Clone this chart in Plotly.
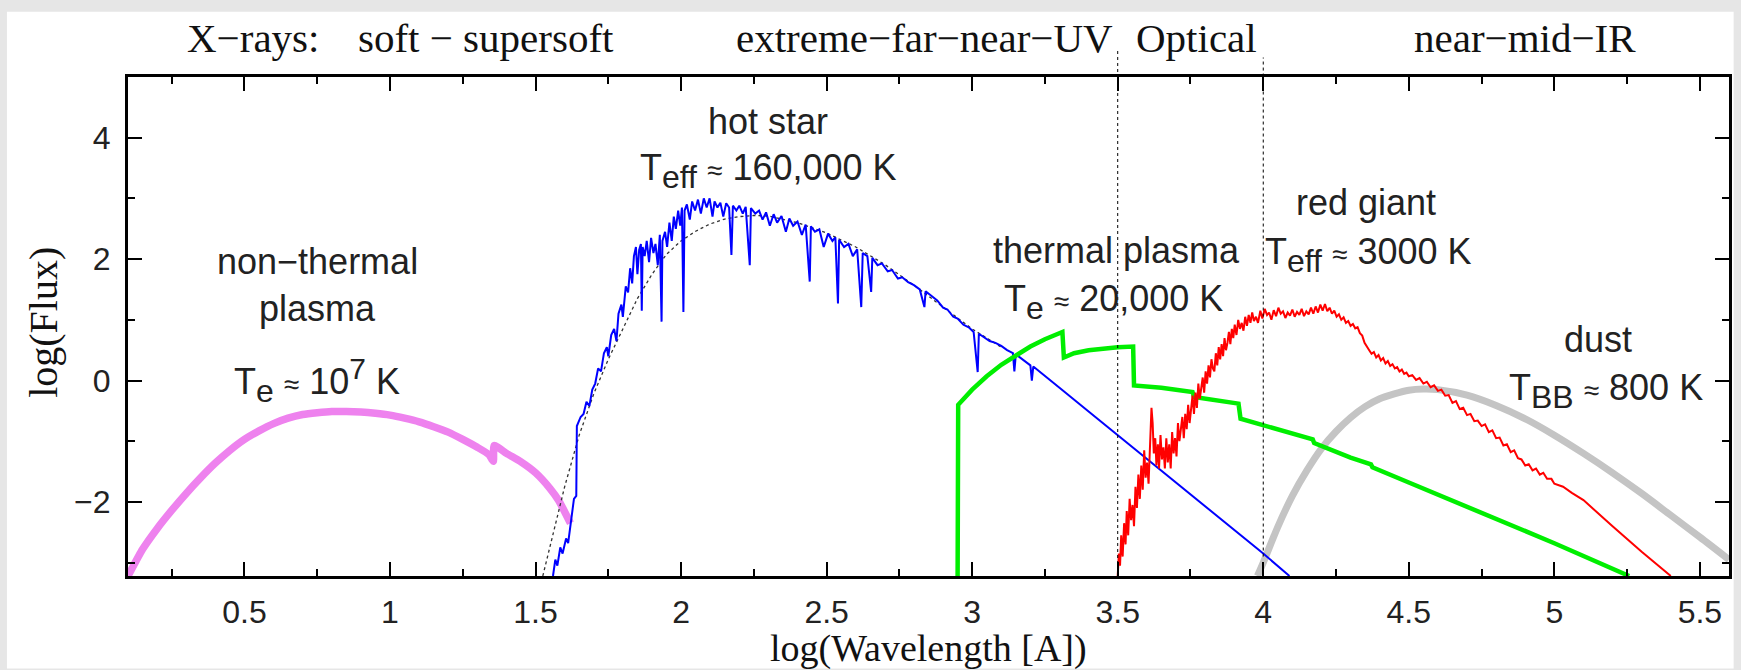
import plotly.graph_objects as go

# ---------------- data ----------------
# non-thermal plasma (violet)
nt_x = [0.100, 0.15, 0.20, 0.25, 0.30, 0.35, 0.40, 0.45, 0.50, 0.55, 0.60, 0.65, 0.70, 0.75,
        0.80, 0.85, 0.90, 0.95, 1.00, 1.05, 1.10, 1.15, 1.20, 1.25, 1.30, 1.34, 1.355, 1.358,
        1.40, 1.45, 1.50, 1.55, 1.58, 1.60, 1.62]
nt_y = [-3.22, -2.78, -2.44, -2.14, -1.86, -1.60, -1.36, -1.15, -0.97, -0.83, -0.71, -0.62, -0.56, -0.53,
        -0.51, -0.51, -0.52, -0.54, -0.57, -0.62, -0.68, -0.76, -0.85, -0.97, -1.10, -1.22, -1.33, -1.07,
        -1.20, -1.34, -1.52, -1.78, -1.98, -2.16, -2.35]

# hot star continuum (black dotted)
hc_x = [1.525, 1.56, 1.58, 1.60, 1.65, 1.70, 1.75, 1.80, 1.85, 1.90, 1.95, 2.00, 2.05, 2.10,
        2.15, 2.20, 2.25, 2.30, 2.40, 2.50, 2.60, 2.70, 2.80, 2.90, 3.00, 3.10]
hc_y = [-3.22, -2.55, -2.14, -1.75, -0.90, -0.22, 0.35, 0.85, 1.35, 1.75, 2.08, 2.30, 2.46, 2.58,
        2.66, 2.70, 2.72, 2.71, 2.60, 2.43, 2.20, 1.91, 1.57, 1.21, 0.85, 0.55]

# hot star spectrum (blue)
hs_x = [1.560, 1.568, 1.575, 1.585, 1.593, 1.605, 1.612, 1.625, 1.632, 1.640, 1.642, 1.655, 1.665,
        1.675, 1.685, 1.695, 1.705, 1.715, 1.725, 1.735, 1.745, 1.750, 1.760, 1.770, 1.778, 1.785,
        1.795, 1.800, 1.810, 1.818, 1.825, 1.832, 1.838, 1.845, 1.850, 1.856, 1.862, 1.865, 1.868,
        1.875, 1.882, 1.890, 1.897, 1.905, 1.912, 1.920, 1.927, 1.933, 1.936, 1.945, 1.952, 1.960,
        1.968, 1.975, 1.982, 1.990, 1.997, 2.003, 2.008, 2.012, 2.020, 2.030, 2.038, 2.048, 2.058,
        2.068, 2.078, 2.088, 2.098, 2.108, 2.115, 2.125, 2.135, 2.145, 2.155, 2.165, 2.173, 2.178,
        2.190, 2.200, 2.212, 2.222, 2.236, 2.240, 2.255, 2.268, 2.280, 2.292, 2.305, 2.318, 2.330,
        2.345, 2.360, 2.372, 2.385, 2.400, 2.415, 2.428, 2.442, 2.446, 2.460, 2.475, 2.490, 2.505,
        2.520, 2.530, 2.539, 2.543, 2.560, 2.575, 2.590, 2.605, 2.619, 2.624, 2.640, 2.653, 2.657,
        2.675, 2.690, 2.710, 2.725, 2.745, 2.760, 2.780, 2.800, 2.820, 2.836, 2.840, 2.860, 2.880,
        2.900, 2.915, 2.935, 2.950, 2.970, 2.990, 3.005, 3.019, 3.023, 3.040, 3.060, 3.080, 3.100,
        3.120, 3.140, 3.145, 3.150, 3.200, 3.205, 3.210, 3.250, 3.300, 3.400, 3.500, 3.600, 3.700,
        3.800, 3.900, 4.000, 4.090]
hs_y = [-3.22, -2.95, -3.05, -2.75, -2.85, -2.60, -2.68, -2.25, -1.95, -1.90, -0.75, -0.60, -0.55,
        -0.35, -0.42, -0.15, -0.05, 0.20, 0.15, 0.45, 0.55, 0.40, 0.75, 0.85, 0.65, 1.10,
        1.25, 1.05, 1.55, 1.45, 1.85, 1.60, 2.05, 2.20, 1.75, 2.15, 2.25, 1.15, 2.20,
        2.05, 2.30, 1.95, 2.35, 2.10, 2.25, 1.90, 2.40, 0.97, 2.30, 2.45, 2.20, 2.60,
        2.30, 2.70, 2.50, 2.80, 2.55, 2.85, 1.13, 2.80, 2.90, 2.65, 2.95, 2.80, 2.98,
        2.75, 3.00, 2.85, 3.00, 2.70, 2.95, 2.85, 2.93, 2.70, 2.92, 2.85, 2.07, 2.88,
        2.80, 2.88, 2.75, 2.86, 1.90, 2.84, 2.75, 2.80, 2.65, 2.77, 2.55, 2.74, 2.60,
        2.71, 2.45, 2.67, 2.55, 2.62, 2.40, 2.57, 1.63, 2.54, 2.45, 2.49, 2.20, 2.42,
        2.30, 2.36, 1.27, 2.32, 2.20, 2.25, 2.05, 2.16, 1.21, 2.10, 2.05, 1.46, 2.02,
        1.90, 1.93, 1.80, 1.82, 1.68, 1.70, 1.62, 1.57, 1.50, 1.21, 1.47, 1.40, 1.32,
        1.20, 1.17, 1.05, 1.02, 0.92, 0.87, 0.80, 0.14, 0.77, 0.72, 0.65, 0.62, 0.57,
        0.50, 0.45, 0.15, 0.43, 0.25, 0.00, 0.23, 0.08, -0.12, -0.51, -0.90, -1.28, -1.67,
        -2.06, -2.45, -2.85, -3.22]

# thermal plasma (green)
tp_x = [2.950, 2.952, 3.00, 3.05, 3.10, 3.15, 3.20, 3.25, 3.31, 3.315, 3.35, 3.40, 3.45, 3.50,
        3.553, 3.556, 3.65, 3.757, 3.762, 3.84, 3.915, 3.922, 4.05, 4.17, 4.175, 4.30, 4.37,
        4.375, 4.50, 4.75, 5.00, 5.257]
tp_y = [-3.22, -0.40, -0.15, 0.07, 0.26, 0.42, 0.56, 0.68, 0.80, 0.38, 0.45, 0.50, 0.53, 0.55,
        0.56, -0.08, -0.12, -0.19, -0.27, -0.33, -0.38, -0.63, -0.80, -0.97, -1.03, -1.27, -1.38,
        -1.43, -1.68, -2.18, -2.68, -3.22]

# red giant (red)
rg_x = [3.500, 3.504, 3.508, 3.512, 3.517, 3.522, 3.527, 3.531, 3.536, 3.541, 3.546, 3.551, 3.556,
        3.561, 3.566, 3.571, 3.576, 3.581, 3.586, 3.591, 3.596, 3.601, 3.606, 3.611, 3.616, 3.620,
        3.624, 3.629, 3.633, 3.638, 3.642, 3.647, 3.652, 3.657, 3.662, 3.667, 3.672, 3.677, 3.682,
        3.687, 3.692, 3.697, 3.702, 3.707, 3.712, 3.717, 3.722, 3.727, 3.732, 3.737, 3.742, 3.747,
        3.752, 3.757, 3.762, 3.767, 3.772, 3.777, 3.782, 3.787, 3.792, 3.797, 3.802, 3.807, 3.812,
        3.817, 3.822, 3.827, 3.832, 3.837, 3.842, 3.847, 3.852, 3.857, 3.862, 3.867, 3.872, 3.877,
        3.882, 3.887, 3.892, 3.897, 3.902, 3.908, 3.914, 3.920, 3.926, 3.932, 3.938, 3.944, 3.950,
        3.956, 3.962, 3.968, 3.975, 3.982, 3.990, 3.997, 4.005, 4.013, 4.020, 4.028, 4.036, 4.044,
        4.052, 4.060, 4.068, 4.076, 4.084, 4.092, 4.100, 4.108, 4.116, 4.124, 4.132, 4.140, 4.148,
        4.156, 4.164, 4.172, 4.180, 4.188, 4.196, 4.204, 4.212, 4.220, 4.228, 4.236, 4.244, 4.252,
        4.260, 4.268, 4.276, 4.284, 4.292, 4.300, 4.308, 4.316, 4.324, 4.332, 4.340, 4.348, 4.356,
        4.364, 4.372, 4.380, 4.388, 4.396, 4.404, 4.412, 4.420, 4.428, 4.436, 4.444, 4.452, 4.460,
        4.468, 4.476, 4.484, 4.492, 4.500, 4.512, 4.525, 4.537, 4.550, 4.562, 4.575, 4.587, 4.600,
        4.612, 4.625, 4.637, 4.650, 4.662, 4.675, 4.687, 4.700, 4.712, 4.725, 4.737, 4.750, 4.762,
        4.775, 4.787, 4.800, 4.812, 4.825, 4.837, 4.850, 4.862, 4.875, 4.887, 4.900, 4.912, 4.925,
        4.937, 4.950, 4.962, 4.975, 4.990, 5.000, 5.030, 5.060, 5.100, 5.200, 5.300, 5.400]
rg_y = [-3.22, -2.85, -3.05, -2.55, -2.90, -2.35, -2.70, -2.15, -2.55, -1.95, -2.30, -2.05, -2.40,
        -1.75, -2.10, -1.55, -1.95, -1.40, -1.80, -1.15, -1.60, -1.35, -1.70, -0.95, -0.45, -0.70,
        -1.20, -0.95, -1.40, -1.05, -1.45, -0.90, -1.30, -1.10, -1.45, -0.95, -1.35, -1.05, -1.45,
        -0.85, -1.20, -0.95, -1.25, -0.70, -1.00, -0.80, -0.60, -0.95, -0.55, -0.80, -0.40, -0.70,
        -0.45, -0.25, -0.55, -0.20, -0.45, -0.05, -0.30, -0.10, 0.05, -0.20, 0.15, -0.05, 0.25,
        0.05, 0.35, 0.20, 0.15, 0.45, 0.25, 0.55, 0.35, 0.60, 0.40, 0.70, 0.50, 0.62,
        0.80, 0.60, 0.85, 0.70, 0.92, 0.75, 1.00, 0.85, 0.95, 0.82, 1.05, 0.90, 1.08,
        0.95, 1.12, 0.98, 1.05, 0.95, 1.15, 1.02, 1.18, 1.08, 1.12, 1.00, 1.16, 1.06,
        1.20, 1.10, 1.14, 1.03, 1.12, 1.07, 1.17, 1.05, 1.13, 1.08, 1.18, 1.06, 1.14,
        1.09, 1.20, 1.10, 1.22, 1.12, 1.25, 1.15, 1.26, 1.14, 1.20, 1.10, 1.15, 1.05,
        1.09, 1.00, 1.04, 0.95, 0.98, 0.90, 0.93, 0.86, 0.88, 0.78, 0.74, 0.62, 0.55,
        0.50, 0.44, 0.47, 0.38, 0.42, 0.33, 0.37, 0.28, 0.32, 0.24, 0.27, 0.20, 0.22,
        0.15, 0.18, 0.11, 0.13, 0.07, 0.09, 0.01, 0.04, -0.05, -0.02, -0.11, -0.08, -0.17,
        -0.15, -0.25, -0.24, -0.37, -0.34, -0.47, -0.45, -0.57, -0.55, -0.67, -0.66, -0.75, -0.72,
        -0.85, -0.82, -0.95, -0.94, -1.07, -1.05, -1.18, -1.15, -1.28, -1.30, -1.40, -1.38, -1.48,
        -1.45, -1.55, -1.52, -1.62, -1.62, -1.70, -1.75, -1.85, -1.97, -2.40, -2.82, -3.22]

# dust (gray)
du_x = [3.98, 4.00, 4.05, 4.10, 4.15, 4.20, 4.25, 4.30, 4.35, 4.40, 4.45, 4.50, 4.55, 4.60,
        4.70, 4.80, 4.90, 5.00, 5.10, 5.20, 5.30, 5.40, 5.50, 5.60]
du_y = [-3.22, -3.00, -2.41, -1.90, -1.48, -1.12, -0.84, -0.61, -0.43, -0.30, -0.22, -0.16, -0.14, -0.15,
        -0.24, -0.41, -0.63, -0.90, -1.20, -1.52, -1.86, -2.22, -2.58, -2.95]

# band boundaries (dotted vertical lines)
band_x = [3.5, 4.0]

x_ticks = [0.5, 1, 1.5, 2, 2.5, 3, 3.5, 4, 4.5, 5, 5.5]
y_ticks = [-2, 0, 2, 4]

SANS = "Liberation Sans, Arial, sans-serif"
SERIF = "Liberation Serif, Times New Roman, serif"

fig = go.Figure()
fig.add_trace(go.Scatter(x=du_x, y=du_y, mode="lines", line=dict(color="#c4c4c4", width=7, shape="spline", smoothing=0.8)))
fig.add_trace(go.Scatter(x=nt_x, y=nt_y, mode="lines", line=dict(color="#ee82ee", width=7.5, shape="spline", smoothing=0.5)))
fig.add_trace(go.Scatter(x=hc_x, y=hc_y, mode="lines", line=dict(color="#333333", width=1.3, dash="dot")))
fig.add_trace(go.Scatter(x=hs_x, y=hs_y, mode="lines", line=dict(color="#0000ff", width=2)))
fig.add_trace(go.Scatter(x=tp_x, y=tp_y, mode="lines", line=dict(color="#00ee00", width=4.5)))
fig.add_trace(go.Scatter(x=rg_x, y=rg_y, mode="lines", line=dict(color="#ff0000", width=2)))

tops = [1.055, 1.039]
bots = [0.0, 0.039]
for bx, t, b in zip(band_x, tops, bots):
    fig.add_shape(type="line", xref="x", yref="paper", x0=bx, x1=bx, y0=b, y1=t,
                  line=dict(color="black", width=1, dash="3px,3px"))

# white panel over gray border
fig.add_shape(type="rect", xref="paper", yref="paper", x0=-0.0756, x1=1.0029, y0=-0.1852, y1=1.1308,
              line=dict(width=0), fillcolor="white", layer="below")

def ann(text, x, y, size=36, font=SANS, color="#222222", xref="x", yref="y", angle=0):
    fig.add_annotation(text=text, x=x, y=y, xref=xref, yref=yref, showarrow=False,
                       font=dict(family=font, size=size, color=color), textangle=angle,
                       xanchor="center", yanchor="middle")

def sub(s):
    return "<sub><span style='font-size:32px'>" + s + "</span></sub>"

APPROX = " <span style='font-size:28px'>\u2248</span> "

ann("non\u2212thermal", 0.751, 1.96)
ann("plasma", 0.751, 1.19)
ann("T" + sub("e") + APPROX + "10<sup><span style='font-size:30px'>7</span></sup> K", 0.75, 0.0)
ann("hot star", 2.30, 4.27)
ann("T" + sub("eff") + APPROX + "160,000 K", 2.30, 3.45)
ann("thermal plasma", 3.495, 2.15)
ann("T" + sub("e") + APPROX + "20,000 K", 3.485, 1.29)
ann("red giant", 4.352, 2.94)
ann("T" + sub("eff") + APPROX + "3000 K", 4.36, 2.06)
ann("dust", 5.15, 0.68)
ann("T" + sub("BB") + APPROX + "800 K", 5.178, -0.18)

SZ = 41
ann("X\u2212rays:", 0.530, 1.079, size=SZ, font=SERIF, color="#111111", yref="paper")
ann("soft \u2212 supersoft", 1.330, 1.079, size=SZ, font=SERIF, color="#111111", yref="paper")
ann("extreme\u2212far\u2212near\u2212UV", 2.835, 1.079, size=SZ, font=SERIF, color="#111111", yref="paper")
ann("Optical", 3.770, 1.079, size=SZ, font=SERIF, color="#111111", yref="paper")
ann("near\u2212mid\u2212IR", 4.900, 1.079, size=SZ, font=SERIF, color="#111111", yref="paper")

ann("log(Wavelength [A])", 0.5, -0.145, size=38, font=SERIF, color="#111111", xref="paper", yref="paper")
ann("log(Flux)", -0.0532, 0.509, size=40, font=SERIF, color="#111111", xref="paper", yref="paper", angle=-90)

axis_common = dict(showgrid=False, zeroline=False, showline=True, linecolor="black", linewidth=3,
                   mirror="allticks", ticks="inside", ticklen=14, tickwidth=2, tickcolor="black",
                   tickfont=dict(family=SANS, size=32, color="#222222"))

fig.update_xaxes(range=[0.1, 5.6], tickvals=x_ticks, ticktext=[f"{v:g}" for v in x_ticks],
                 minor=dict(ticks="inside", ticklen=7, tickwidth=2, tickcolor="black", dtick=0.25, tick0=0),
                 ticklabelstandoff=6, **axis_common)
fig.update_yaxes(range=[-3.22, 5.0], tickvals=y_ticks, ticktext=[f"{v:g}".replace("-", "\u2212") for v in y_ticks],
                 minor=dict(ticks="inside", ticklen=7, tickwidth=2, tickcolor="black", dtick=1, tick0=0),
                 ticklabelstandoff=8, **axis_common)

fig.update_layout(width=1741, height=670, margin=dict(l=128, r=9, t=77, b=94, pad=0),
                  paper_bgcolor="#e6e6e6", plot_bgcolor="white", showlegend=False)

fig.write_html("out.html")
